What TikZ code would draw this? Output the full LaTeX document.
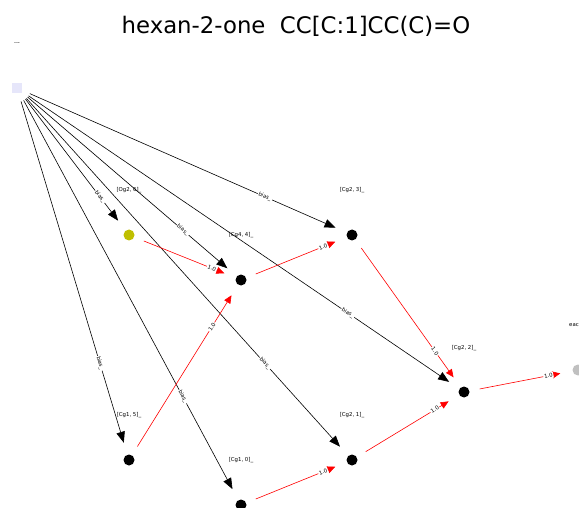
\documentclass[tikz,border=0pt]{standalone}
\usepackage{fontspec}
\setmainfont{DejaVu Sans}
\usetikzlibrary{arrows.meta}
\tikzset{
  nd/.style={circle, fill=black, minimum size=11pt, inner sep=0pt},
  lbl/.style={font=\fontsize{5.4}{6}\selectfont, inner sep=0pt},
  biasedge/.style={-{Triangle[length=11pt,width=8.5pt]}, black, line width=0.6pt, shorten <=14pt, shorten >=18pt},
  wedge/.style={-{Triangle[length=8pt,width=7pt]}, red, line width=0.6pt, shorten <=16pt, shorten >=18pt},
  elab/.style={sloped, pos=0.74, fill=white, inner sep=0.8pt, font=\fontsize{5.4}{6}\selectfont, text=black},
}
\begin{document}
\begin{tikzpicture}[x=1pt,y=-1pt]
\useasboundingbox (0,0) rectangle (579,508);
\node[font=\fontsize{22.8}{27}\selectfont] (title) at (296,26) {hexan-2-one\ \ CC[C:1]CC(C)=O};

% nodes
\node[rectangle, fill={rgb,255:red,230;green,230;blue,250}, minimum size=10pt, inner sep=0pt] (bias) at (17,88) {};
\node[circle, fill={rgb,255:red,191;green,191;blue,0}, minimum size=11pt, inner sep=0pt] (og26) at (129,235) {};
\node[nd] (cg44) at (241,280) {};
\node[nd] (cg23) at (352,235) {};
\node[nd] (cg22) at (464,392) {};
\node[nd] (cg15) at (129,460) {};
\node[nd] (cg10) at (241,505) {};
\node[nd] (cg21) at (352,460) {};
\node[circle, fill={rgb,255:red,192;green,192;blue,192}, minimum size=11pt, inner sep=0pt] (out) at (578,370) {};

% node labels
\node[lbl] (lbias) at (17,44) {{-}{-}{-}};
\node[lbl] (log26) at (129,190) {[Og2, 6]\_};
\node[lbl] (lcg44) at (241,235) {[Cg4, 4]\_};
\node[lbl] (lcg23) at (352,190) {[Cg2, 3]\_};
\node[lbl] (lcg22) at (464,348) {[Cg2, 2]\_};
\node[lbl] (lcg15) at (129,415) {[Cg1, 5]\_};
\node[lbl] (lcg10) at (241,460) {[Cg1, 0]\_};
\node[lbl] (lcg21) at (352,415) {[Cg2, 1]\_};
\node[lbl, anchor=west] (lout) at (569,325) {eac};

% bias edges
\foreach \t in {og26,cg44,cg23,cg22,cg15,cg10,cg21}{
  \draw[biasedge] (bias.center) -- node[elab] {bias\_} (\t.center);
}

% weighted edges
\draw[wedge] (og26.center) -- node[elab] {1.0} (cg44.center);
\draw[wedge] (cg15.center) -- node[elab] {1.0} (cg44.center);
\draw[wedge] (cg44.center) -- node[elab] {1.0} (cg23.center);
\draw[wedge] (cg23.center) -- node[elab] {1.0} (cg22.center);
\draw[wedge] (cg10.center) -- node[elab] {1.0} (cg21.center);
\draw[wedge] (cg21.center) -- node[elab] {1.0} (cg22.center);
\draw[wedge] (cg22.center) -- node[elab] {1.0} (out.center);
\end{tikzpicture}
\end{document}
